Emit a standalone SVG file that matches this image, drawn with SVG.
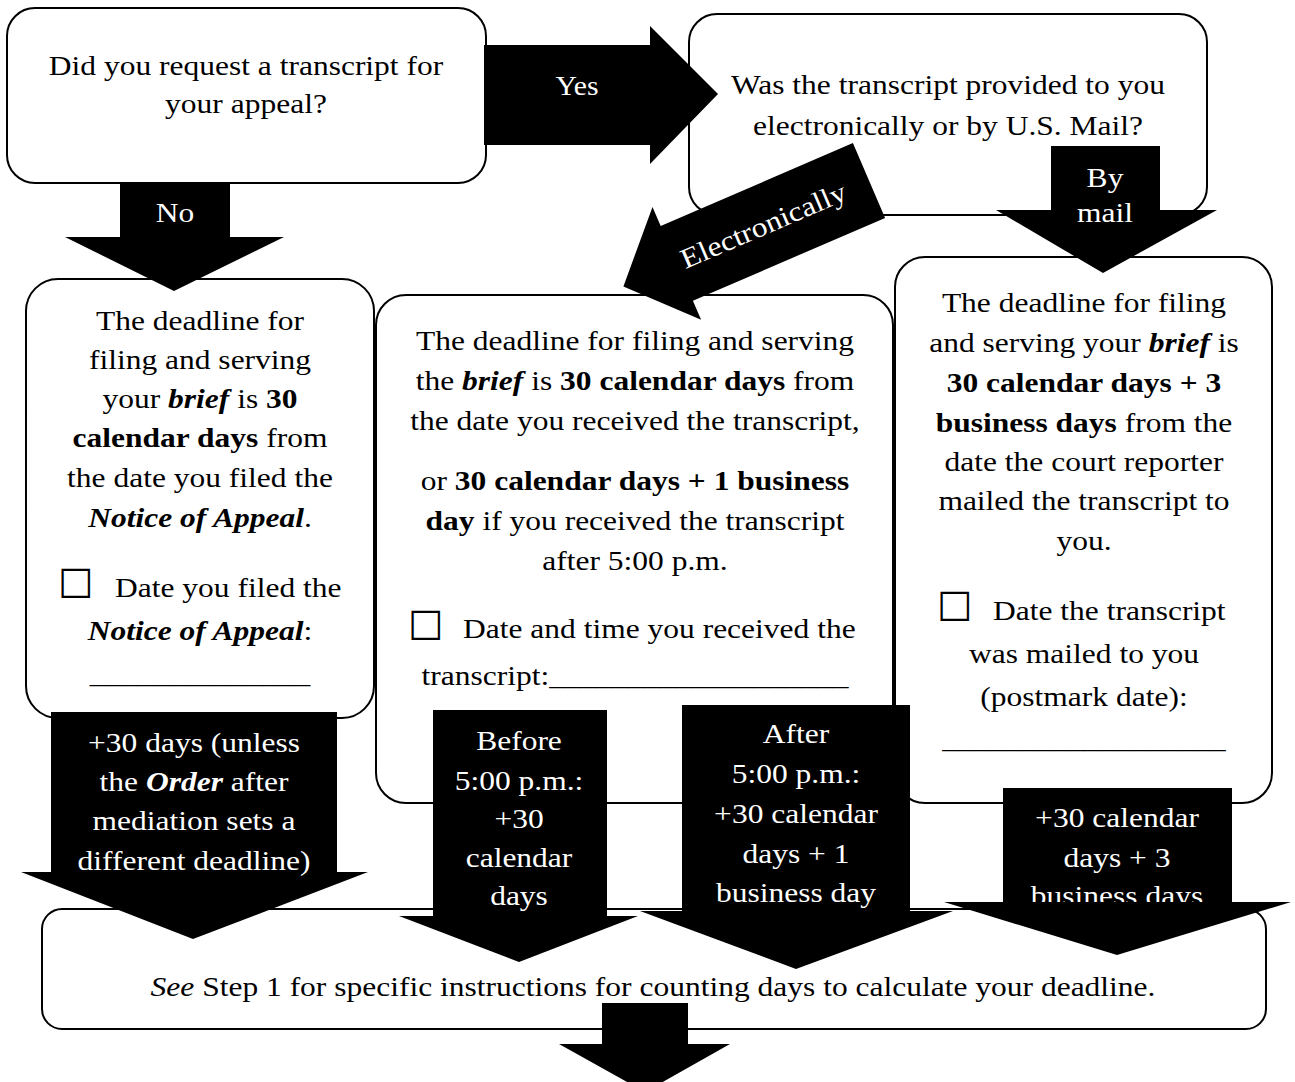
<svg xmlns="http://www.w3.org/2000/svg" width="1295" height="1082" viewBox="0 0 1295 1082">
<style>
.box{fill:#fff;stroke:#000;stroke-width:2}
.arr{fill:#000;stroke:none}
.t{font-family:"Liberation Serif","Times New Roman",serif;font-size:28px;text-anchor:middle;fill:#000}
.w{fill:#fff}
.s{text-anchor:start}
.b{font-weight:bold}
.i{font-style:italic}
.bi{font-weight:bold;font-style:italic}
.cb{font-family:"DejaVu Sans",sans-serif;font-size:40px;text-anchor:start;fill:#000}
</style>
<defs>
<clipPath id="clipA3"><rect x="682" y="705" width="228" height="206"/></clipPath>
<clipPath id="clipA4"><rect x="1003" y="788" width="229" height="114"/></clipPath>
</defs>
<rect width="1295" height="1082" fill="#fff"/>

<g id="q1">
<rect class="box" x="7" y="8" width="479" height="175" rx="28"/>
<text class="t" transform="translate(246 75) scale(1.125 1)">Did you request a transcript for</text>
<text class="t" transform="translate(246 113) scale(1.125 1)">your appeal?</text>
</g>

<g id="q2">
<rect class="box" x="689" y="14" width="518" height="201" rx="28"/>
<text class="t" transform="translate(948 94) scale(1.125 1)">Was the transcript provided to you</text>
<text class="t" transform="translate(948 135) scale(1.125 1)">electronically or by U.S. Mail?</text>
</g>

<g id="noTranscript">
<rect class="box" x="26" y="279" width="348" height="439" rx="32"/>
<text class="t" transform="translate(200 330) scale(1.125 1)">The deadline for</text>
<text class="t" transform="translate(200 369) scale(1.125 1)">filing and serving</text>
<text class="t" transform="translate(200 408) scale(1.125 1)">your <tspan class="bi">brief</tspan> is <tspan class="b">30</tspan></text>
<text class="t" transform="translate(200 447) scale(1.125 1)"><tspan class="b">calendar days</tspan> from</text>
<text class="t" transform="translate(200 487) scale(1.125 1)">the date you filed the</text>
<text class="t" transform="translate(200 527) scale(1.125 1)"><tspan class="bi">Notice of Appeal</tspan>.</text>
<text class="cb" transform="translate(57.7 598)">☐</text>
<text class="t s" transform="translate(115 597) scale(1.125 1)">Date you filed the</text>
<text class="t" transform="translate(200 640) scale(1.125 1)"><tspan class="bi">Notice of Appeal</tspan>:</text>
<text class="t" transform="translate(200 683) scale(1.125 1)">______________</text>
</g>

<g id="electronic">
<rect class="box" x="376" y="295" width="517" height="508" rx="30"/>
<text class="t" transform="translate(635 350) scale(1.125 1)">The deadline for filing and serving</text>
<text class="t" transform="translate(635 390) scale(1.125 1)">the <tspan class="bi">brief</tspan> is <tspan class="b">30 calendar days</tspan> from</text>
<text class="t" transform="translate(635 430) scale(1.125 1)">the date you received the transcript,</text>
<text class="t" transform="translate(635 490) scale(1.125 1)">or <tspan class="b">30 calendar days + 1 business</tspan></text>
<text class="t" transform="translate(635 530) scale(1.125 1)"><tspan class="b">day</tspan> if you received the transcript</text>
<text class="t" transform="translate(635 570) scale(1.125 1)">after 5:00 p.m.</text>
<text class="cb" transform="translate(407.7 640)">☐</text>
<text class="t s" transform="translate(463 638) scale(1.125 1)">Date and time you received the</text>
<text class="t" transform="translate(635 685) scale(1.125 1)">transcript:___________________</text>
</g>

<g id="byMail">
<rect class="box" x="895" y="257" width="377" height="546" rx="30"/>
<text class="t" transform="translate(1084 312) scale(1.125 1)">The deadline for filing</text>
<text class="t" transform="translate(1084 352) scale(1.125 1)">and serving your <tspan class="bi">brief</tspan> is</text>
<text class="t" transform="translate(1084 392) scale(1.125 1)"><tspan class="b">30 calendar days + 3</tspan></text>
<text class="t" transform="translate(1084 432) scale(1.125 1)"><tspan class="b">business days</tspan> from the</text>
<text class="t" transform="translate(1084 471) scale(1.125 1)">date the court reporter</text>
<text class="t" transform="translate(1084 510) scale(1.125 1)">mailed the transcript to</text>
<text class="t" transform="translate(1084 550) scale(1.125 1)">you.</text>
<text class="cb" transform="translate(936.7 621)">☐</text>
<text class="t s" transform="translate(993 620) scale(1.125 1)">Date the transcript</text>
<text class="t" transform="translate(1084 663) scale(1.125 1)">was mailed to you</text>
<text class="t" transform="translate(1084 706) scale(1.125 1)">(postmark date):</text>
<text class="t" transform="translate(1084 748) scale(1.125 1)">__________________</text>
</g>

<g id="step1">
<rect class="box" x="42" y="909" width="1224" height="120" rx="20"/>
<text class="t" transform="translate(653 996) scale(1.125 1)"><tspan class="i">See</tspan> Step 1 for specific instructions for counting days to calculate your deadline.</text>
</g>

<g id="connectors">
<g id="yes">
<polygon class="arr" points="484,45 650,45 650,26 718,94 650,164 650,145 484,145"/>
<text class="t w" transform="translate(577 95) scale(1.1 1)" style="font-size:27px">Yes</text>
</g>
<g id="no">
<polygon class="arr" points="120,183 230,183 230,237 284,237 174,291 65,237 120,237"/>
<text class="t w" transform="translate(175 222) scale(1.125 1)">No</text>
</g>
<g id="electronically">
<polygon class="arr" points="852.9,143.1 660.7,226 652.5,207.1 623.4,286.4 701.1,319.7 692.9,300.8 885.1,217.9"/>
<text class="t w" transform="translate(767 234) rotate(-23.3) scale(1.13 1)">Electronically</text>
</g>
<g id="bymail">
<polygon class="arr" points="1051,146 1160,146 1160,210 1217,210 1103,273 996,210 1051,210"/>
<text class="t w" transform="translate(1105 187) scale(1.125 1)">By</text>
<text class="t w" transform="translate(1105 222) scale(1.125 1)">mail</text>
</g>
<g id="plus30">
<polygon class="arr" points="51,712 337,712 337,872 368,872 193,939 21,872 51,872"/>
<text class="t w" transform="translate(194 752) scale(1.125 1)">+30 days (unless</text>
<text class="t w" transform="translate(194 791) scale(1.125 1)">the <tspan class="bi">Order</tspan> after</text>
<text class="t w" transform="translate(194 830) scale(1.125 1)">mediation sets a</text>
<text class="t w" transform="translate(194 870) scale(1.125 1)">different deadline)</text>
</g>
<g id="before5">
<polygon class="arr" points="433,710 607,710 607,916 638,916 519,962 399,916 433,916"/>
<text class="t w" transform="translate(519 750) scale(1.125 1)">Before</text>
<text class="t w" transform="translate(519 790) scale(1.125 1)">5:00 p.m.:</text>
<text class="t w" transform="translate(519 828) scale(1.125 1)">+30</text>
<text class="t w" transform="translate(519 867) scale(1.125 1)">calendar</text>
<text class="t w" transform="translate(519 905) scale(1.125 1)">days</text>
</g>
<g id="after5">
<polygon class="arr" points="682,705 910,705 910,911 953,911 796,969 640,911 682,911"/>
<g clip-path="url(#clipA3)">
<text class="t w" transform="translate(796 743) scale(1.125 1)">After</text>
<text class="t w" transform="translate(796 783) scale(1.125 1)">5:00 p.m.:</text>
<text class="t w" transform="translate(796 823) scale(1.125 1)">+30 calendar</text>
<text class="t w" transform="translate(796 863) scale(1.125 1)">days + 1</text>
<text class="t w" transform="translate(796 902) scale(1.125 1)">business day</text>
</g>
</g>
<g id="mail3">
<polygon class="arr" points="1003,788 1232,788 1232,902 1291,902 1117,955 944,902 1003,902"/>
<g clip-path="url(#clipA4)">
<text class="t w" transform="translate(1117 827) scale(1.125 1)">+30 calendar</text>
<text class="t w" transform="translate(1117 867) scale(1.125 1)">days + 3</text>
<text class="t w" transform="translate(1117 905) scale(1.125 1)">business days</text>
</g>
</g>
<g id="next">
<polygon class="arr" points="602,1003 688,1003 688,1044 730,1044 645,1092 559,1044 602,1044"/>
</g>
</g>
</svg>
